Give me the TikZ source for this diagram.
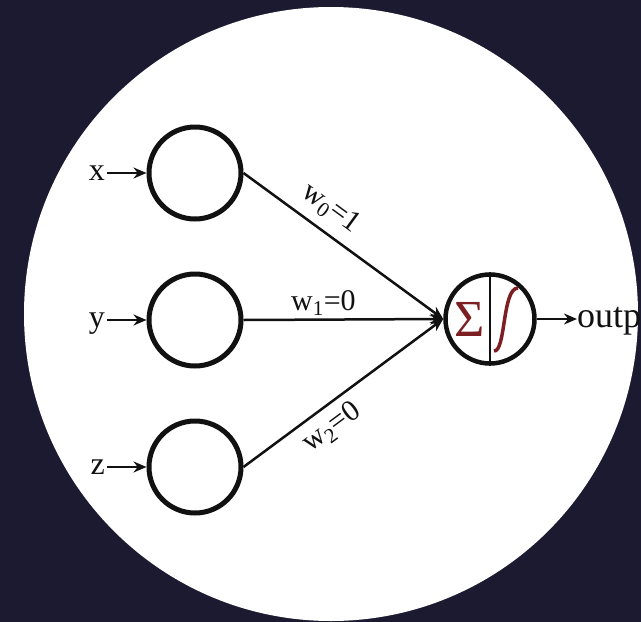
\documentclass[tikz,border=0pt]{standalone}
\usepackage{fontspec}
\setmainfont{Liberation Serif}
\usetikzlibrary{arrows.meta}
\definecolor{bg}{HTML}{1C1A30}
\definecolor{sig}{HTML}{7D1F22}
\definecolor{ink}{HTML}{111111}
\begin{document}
\begin{tikzpicture}[x=1pt,y=-1pt,
  inp/.style={circle,draw=ink,line width=5pt,minimum size=92pt,inner sep=0pt,fill=white},
  outc/.style={circle,draw=ink,line width=4.5pt,minimum size=89pt,inner sep=0pt},
  lbl/.style={font=\fontsize{32}{38}\selectfont,inner sep=0pt,text=ink},
  wl/.style={font=\fontsize{30}{36}\selectfont,inner sep=3pt,text=ink},
  edge/.style={draw=ink,line width=2.5pt,-{Stealth[length=13pt,width=11pt]}},
  symb/.style={color=sig}]
\useasboundingbox (0,0) rectangle (641,622);
\begin{scope}
\clip (0,0) rectangle (641,622);
\fill[bg] (0,0) rectangle (641,622);
\fill[white] (331,314) circle (307);

\node[inp] (cx) at (195,173) {};
\node[inp] (cy) at (195,320) {};
\node[inp] (cz) at (195,467) {};
\node[outc] (out) at (490,319) {};

\node[lbl,anchor=base east] (lx) at (105,180) {x};
\node[lbl,anchor=base east] (ly) at (105,327) {y};
\node[lbl,anchor=base east] (lz) at (105,474) {z};

\draw[edge] (cx.west -| lx.east) ++(2,0) -- (cx.west);
\draw[edge] (cy.west -| ly.east) ++(2,0) -- (cy.west);
\draw[edge] (cz.west -| lz.east) ++(2,0) -- (cz.west);

\draw[edge] (cx.east) -- node[wl,above=6pt,sloped,pos=0.37] {w\textsubscript{0}=1} (out.west);
\draw[edge] (cy.east) -- node[wl,above,pos=0.40] {w\textsubscript{1}=0} (out.west);
\draw[edge] (cz.east) -- node[wl,below=4pt,sloped,pos=0.38] {w\textsubscript{2}=0} (out.west);

\draw[draw=ink,line width=2.2pt] (out.north) -- (out.south);
\node[symb,font=\fontsize{52}{60}\selectfont,inner sep=0pt] (sigma) at (470,319) {Σ};
\draw[symb,line width=3.5pt] (494,351) .. controls (506,352) and (502,288) .. (518,288);

\node[lbl,font=\fontsize{36}{42}\selectfont,anchor=base west] (lo) at (577,327) {output};
\draw[edge] (out.east) -- (lo.west |- out.east);
\end{scope}
\end{tikzpicture}
\end{document}
